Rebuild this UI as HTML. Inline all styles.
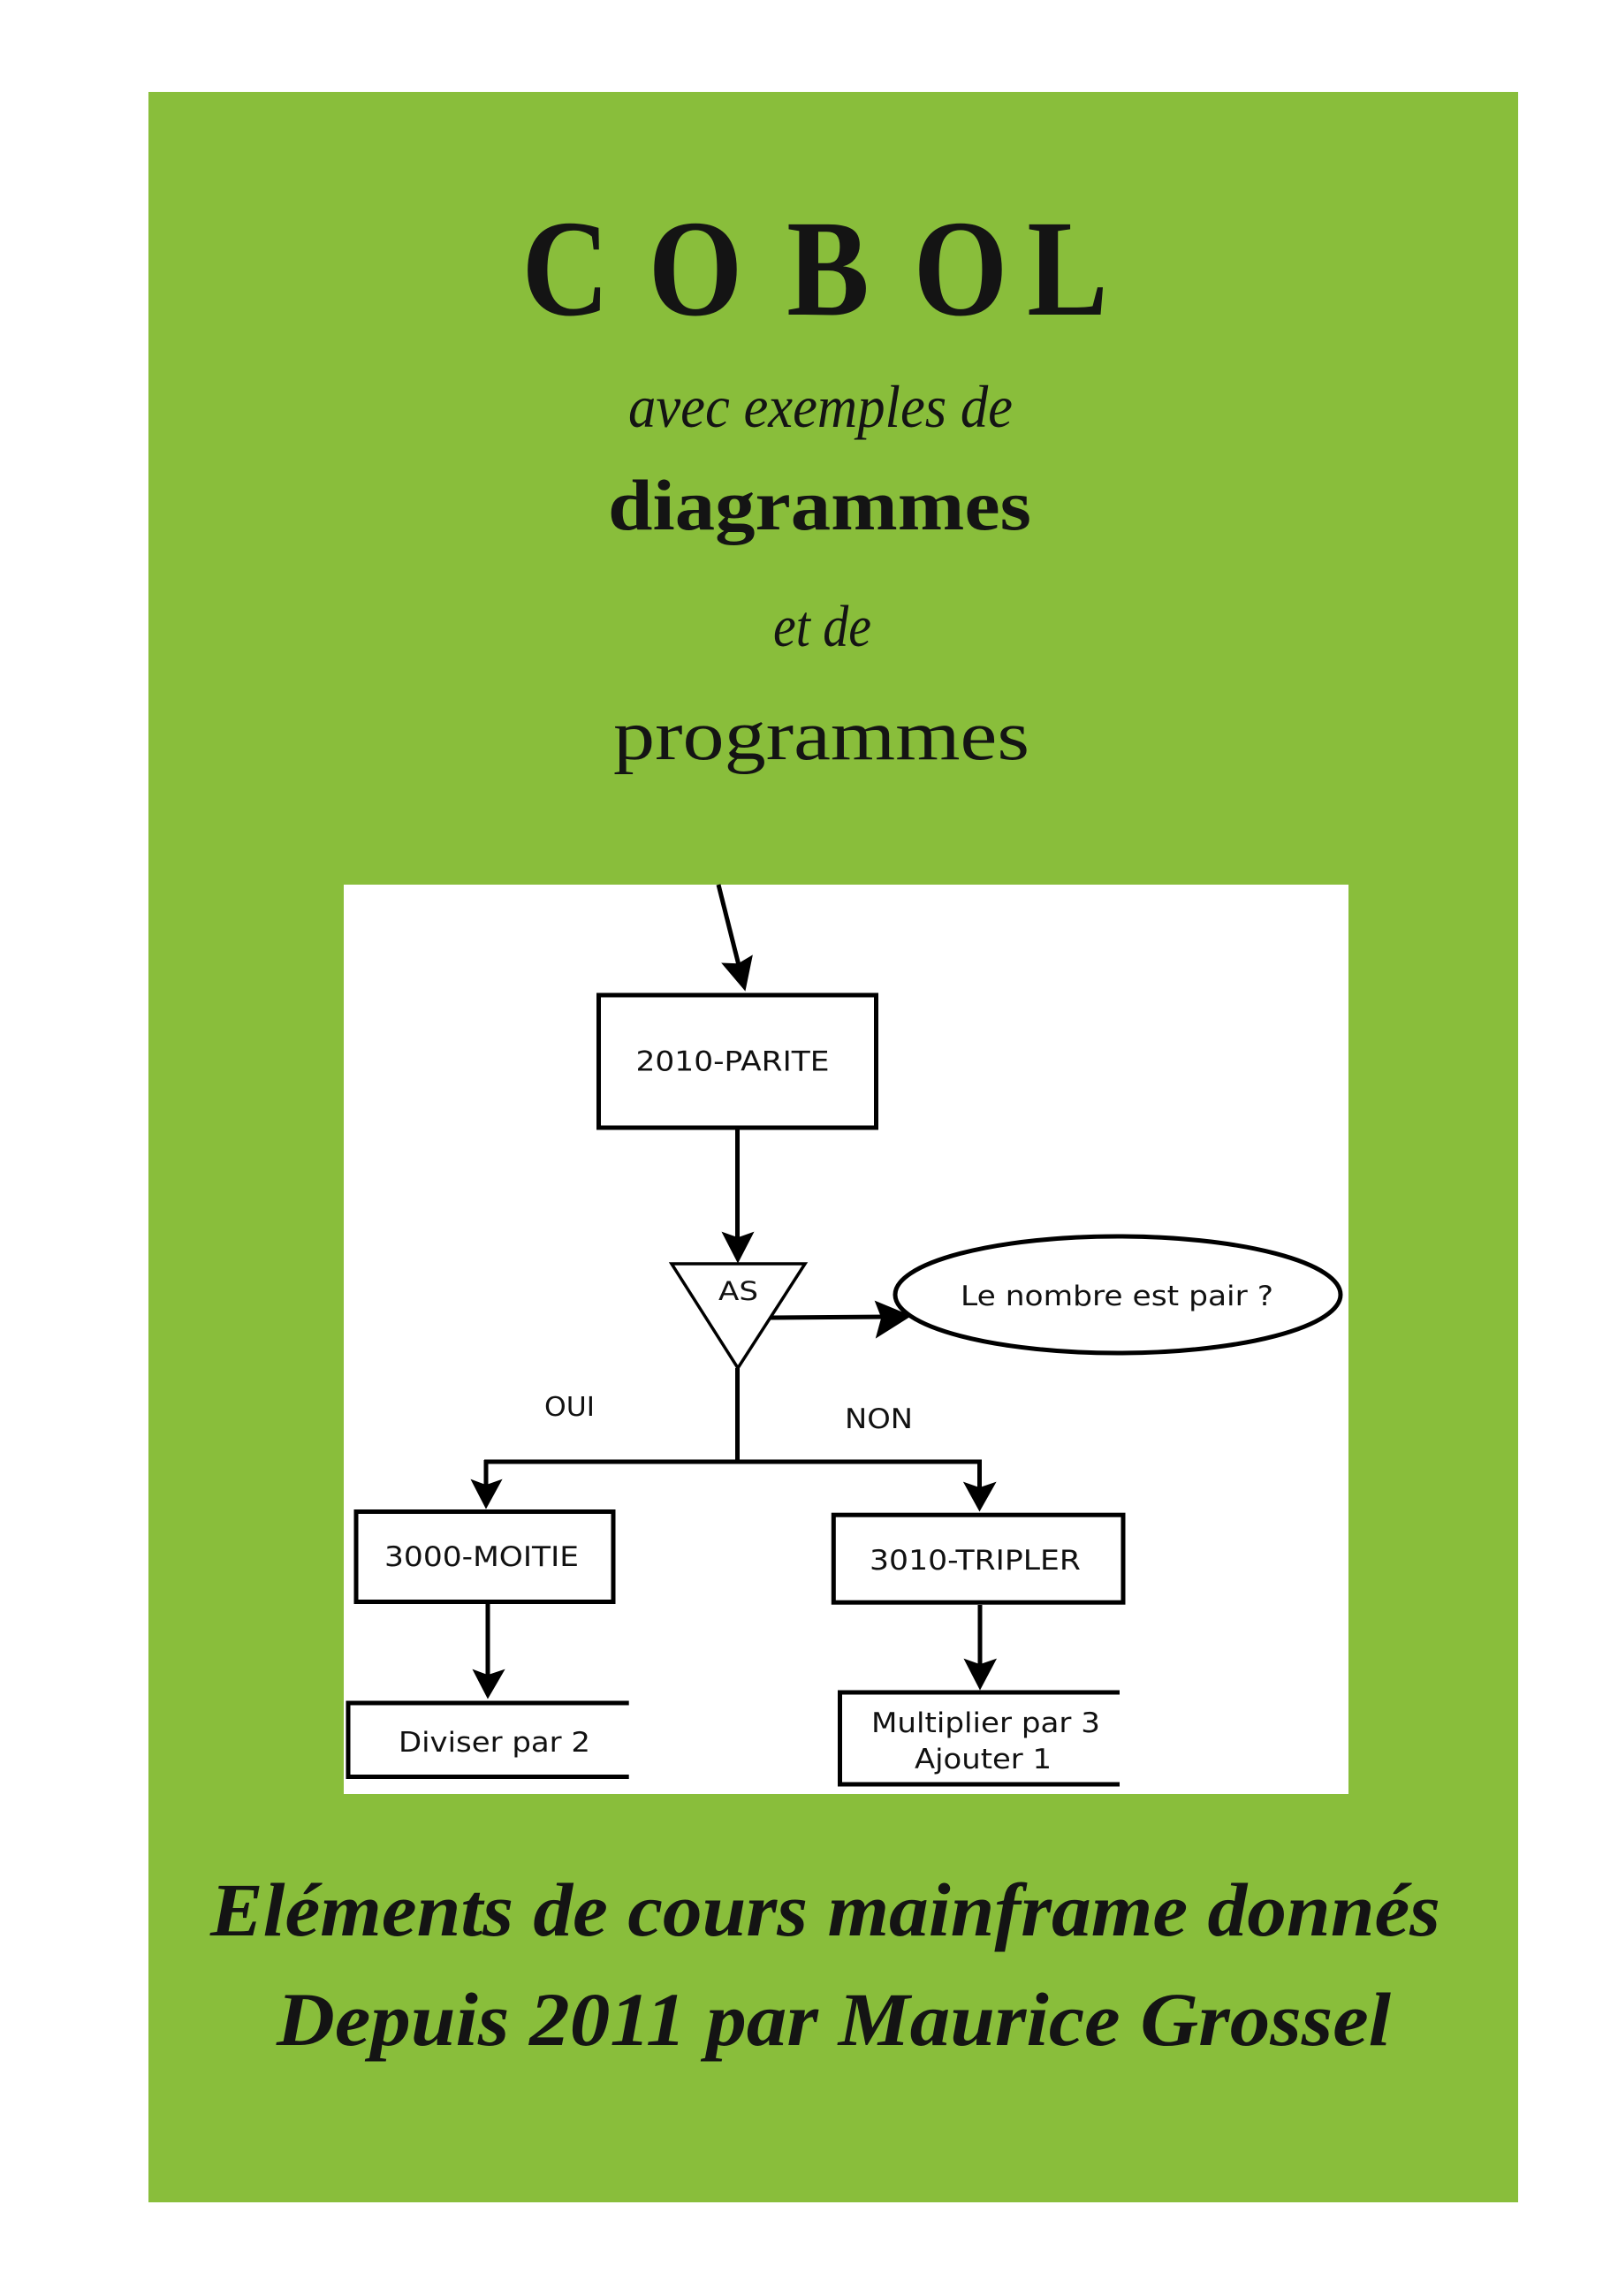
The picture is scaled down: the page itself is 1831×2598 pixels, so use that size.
<!DOCTYPE html>
<html>
<head>
<meta charset="utf-8">
<style>
html,body{margin:0;padding:0;background:#fff;}
body{width:1831px;height:2598px;overflow:hidden;}
svg{display:block;}
.t{font-family:"Liberation Serif",serif;fill:#141414;}
.d{font-family:"DejaVu Sans","Liberation Sans",sans-serif;fill:#111;}
</style>
</head>
<body>
<svg width="1831" height="2598" viewBox="0 0 1831 2598" xmlns="http://www.w3.org/2000/svg">
  <rect x="0" y="0" width="1831" height="2598" fill="#ffffff"/>
  <rect x="168" y="104" width="1550" height="2388" fill="#89be3b"/>

  <!-- Title COBOL -->
  <g class="t" font-weight="bold" font-size="156" text-anchor="middle">
    <g transform="translate(640,356) scale(0.88,1)"><text x="0" y="0" class="t">C</text></g>
    <g transform="translate(787,356) scale(0.88,1)"><text x="0" y="0" class="t">O</text></g>
    <g transform="translate(937,356) scale(0.9,1)"><text x="0" y="0" class="t">B</text></g>
    <g transform="translate(1087,356) scale(0.88,1)"><text x="0" y="0" class="t">O</text></g>
    <g transform="translate(1208,356) scale(0.88,1)"><text x="0" y="0" class="t">L</text></g>
  </g>

  <text class="t" x="711" y="483" font-size="68" font-style="italic" textLength="435" lengthAdjust="spacingAndGlyphs">avec exemples de</text>
  <text class="t" x="688" y="599" font-size="82" font-weight="bold" textLength="479" lengthAdjust="spacingAndGlyphs">diagrammes</text>
  <text class="t" x="875" y="731" font-size="67" font-style="italic" textLength="111" lengthAdjust="spacingAndGlyphs">et de</text>
  <text class="t" x="694" y="859" font-size="80" textLength="471" lengthAdjust="spacingAndGlyphs">programmes</text>

  <!-- Diagram -->
  <rect x="389" y="1001" width="1137" height="1029" fill="#ffffff"/>

  <g stroke="#000" stroke-width="5" fill="none">
    <line x1="813" y1="1001" x2="838" y2="1100"/>
    <rect x="677.5" y="1126" width="314" height="150"/>
    <line x1="834.5" y1="1278" x2="834.5" y2="1405"/>
    <line x1="872" y1="1491" x2="1005" y2="1490"/>
    <ellipse cx="1265" cy="1465" rx="252" ry="66"/>
    <line x1="834.5" y1="1548" x2="834.5" y2="1656"/>
    <line x1="548" y1="1654" x2="1111" y2="1654"/>
    <line x1="550" y1="1652" x2="550" y2="1685"/>
    <line x1="1108.5" y1="1652" x2="1108.5" y2="1688"/>
    <rect x="403" y="1710.5" width="291" height="102"/>
    <line x1="552" y1="1815" x2="552" y2="1898"/>
    <polyline points="711.7,1927 394,1927 394,2010.5 711.7,2010.5"/>
    <rect x="943.3" y="1714.2" width="327.7" height="99"/>
    <line x1="1109" y1="1816" x2="1109" y2="1888"/>
    <polyline points="1267,1915 950.5,1915 950.5,2019 1267,2019"/>
  </g>

  <!-- triangle -->
  <polygon points="760,1430 911,1430 835,1548" fill="#ffffff" stroke="#000" stroke-width="3.5" stroke-linejoin="miter"/>

  <!-- arrowheads (filled, shallow notch) -->
  <g fill="#000" stroke="#000" stroke-width="1.5" stroke-linejoin="miter">
    <polygon points="817.8,1090.3 843,1120 850.8,1081.9 835.5,1091"/>
    <polygon points="818,1395 835,1428 852,1395 835,1401"/>
    <polygon points="991,1473 1030,1489 992,1513 998,1491"/>
    <polygon points="534,1675 550,1706 567,1675 550,1681"/>
    <polygon points="1091.5,1678 1108.5,1709 1126,1678 1108.5,1684"/>
    <polygon points="536,1890 552,1921 570,1890 552,1896"/>
    <polygon points="1092,1878 1109,1911 1126.5,1878 1109,1884"/>
  </g>

  <!-- diagram labels -->
  <g class="d" font-size="31">
    <text class="d" x="719.5" y="1211.5" textLength="219" lengthAdjust="spacingAndGlyphs">2010-PARITE</text>
    <text class="d" x="813" y="1471" font-size="29" textLength="45" lengthAdjust="spacingAndGlyphs">AS</text>
    <text class="d" x="1087" y="1477" textLength="354" lengthAdjust="spacingAndGlyphs">Le nombre est pair ?</text>
    <text class="d" x="616" y="1602" font-size="30" textLength="57" lengthAdjust="spacingAndGlyphs">OUI</text>
    <text class="d" x="956" y="1616" textLength="77" lengthAdjust="spacingAndGlyphs">NON</text>
    <text class="d" x="435" y="1772" textLength="220" lengthAdjust="spacingAndGlyphs">3000-MOITIE</text>
    <text class="d" x="984" y="1776" textLength="239" lengthAdjust="spacingAndGlyphs">3010-TRIPLER</text>
    <text class="d" x="451" y="1982" textLength="217" lengthAdjust="spacingAndGlyphs">Diviser par 2</text>
    <text class="d" x="986" y="1960" textLength="259" lengthAdjust="spacingAndGlyphs">Multiplier par 3</text>
    <text class="d" x="1035" y="2001" textLength="155" lengthAdjust="spacingAndGlyphs">Ajouter 1</text>
  </g>

  <!-- bottom text -->
  <text class="t" x="238" y="2190" font-size="86" font-weight="bold" font-style="italic" textLength="1392" lengthAdjust="spacingAndGlyphs">Eléments de cours mainframe donnés</text>
  <text class="t" x="313" y="2314" font-size="86" font-weight="bold" font-style="italic" textLength="1261" lengthAdjust="spacingAndGlyphs">Depuis 2011 par Maurice Grossel</text>
</svg>
</body>
</html>
